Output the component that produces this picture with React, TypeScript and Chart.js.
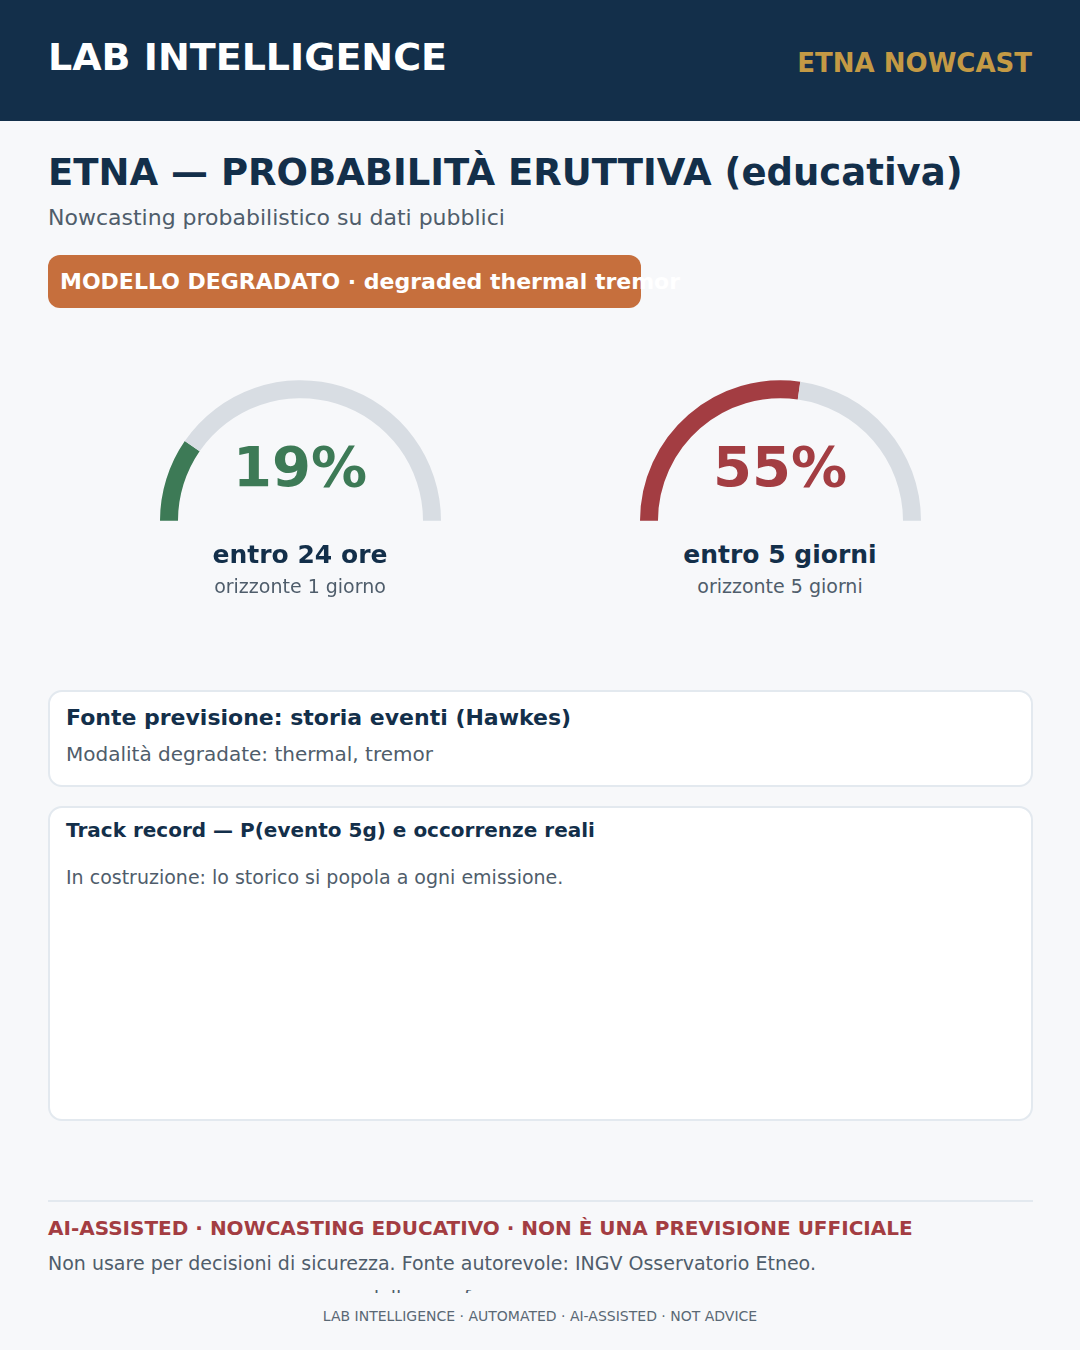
import React, { useEffect, useRef } from "react";
import { Chart, registerables } from "chart.js";

Chart.register(...registerables);

const gaugeValues = [19.2, 54.5];
const gaugeMax = 100;
const gaugeLabels = ["entro 24 ore", "entro 5 giorni"];
const gaugeSubs = ["orizzonte 1 giorno", "orizzonte 5 giorni"];
const gaugeColors = ["#3d7a56", "#a33d42"];
const gaugeLefts = [160, 640];

const FONT = "'DejaVu Sans', sans-serif";
const NAVY = "#132f4a";
const GREY = "#4f5d6b";
const PAGE = "#f7f8fa";

function Gauge({ value, color, left }: { value: number; color: string; left: number }) {
  const ref = useRef<HTMLCanvasElement>(null);
  useEffect(() => {
    const chart = new Chart(ref.current!, {
      type: "doughnut",
      data: {
        labels: ["probabilità", "resto"],
        datasets: [{ data: [value, gaugeMax - value], backgroundColor: [color, "#d8dde3"], borderWidth: 0 }],
      },
      options: {
        responsive: false,
        animation: false,
        rotation: -90,
        circumference: 180,
        cutout: "87.2%",
        layout: { padding: 0 },
        plugins: { legend: { display: false }, tooltip: { enabled: false } },
      },
    });
    return () => chart.destroy();
  }, [value, color]);
  return <canvas ref={ref} width={281} height={141} style={{ position: "absolute", left, top: 380, width: 281, height: 141 }} />;
}

function T({ x, y, size, color, bold, children, center, right }: any) {
  const style: React.CSSProperties = {
    position: "absolute",
    top: y,
    fontSize: size,
    color,
    fontWeight: bold ? 700 : 400,
    lineHeight: "1",
    whiteSpace: "nowrap",
    fontFamily: FONT,
  };
  if (center) {
    style.left = x;
    style.transform = "translateX(-50%)";
  } else if (right) {
    style.right = 1080 - x;
  } else {
    style.left = x;
  }
  return <div style={style}>{children}</div>;
}

const card: React.CSSProperties = {
  position: "absolute",
  left: 48,
  width: 985,
  boxSizing: "border-box",
  background: "#ffffff",
  border: "2px solid #e3e9ef",
  borderRadius: 14,
};

export default function App() {
  useEffect(() => {
    document.body.style.margin = "0";
    document.body.style.background = PAGE;
  }, []);
  return (
    <div style={{ position: "relative", width: 1080, height: 1350, background: PAGE, overflow: "hidden", fontFamily: FONT }}>
      <div style={{ position: "absolute", left: 0, top: 0, width: 1080, height: 121, background: NAVY }} />
      <T x={48} y={38} size={38} color="#ffffff" bold>LAB INTELLIGENCE</T>
      <T x={1032} y={50} size={26} color="#c49a45" bold right>ETNA NOWCAST</T>

      <T x={48} y={154} size={37} color={NAVY} bold>ETNA — PROBABILITÀ ERUTTIVA (educativa)</T>
      <T x={48} y={207} size={22} color={GREY}>Nowcasting probabilistico su dati pubblici</T>

      <div style={{ position: "absolute", left: 48, top: 255, width: 593, height: 53, background: "#c66f3d", borderRadius: 12 }} />
      <T x={60} y={271} size={22} color="#ffffff" bold>MODELLO DEGRADATO · degraded thermal tremor</T>

      {gaugeValues.map((v, i) => (
        <React.Fragment key={i}>
          <Gauge value={v} color={gaugeColors[i]} left={gaugeLefts[i]} />
          <T x={gaugeLefts[i] + 140} y={439} size={56} color={gaugeColors[i]} bold center>{Math.round(v)}%</T>
          <T x={gaugeLefts[i] + 140} y={542} size={25} color={NAVY} bold center>{gaugeLabels[i]}</T>
          <T x={gaugeLefts[i] + 140} y={577} size={19} color={GREY} center>{gaugeSubs[i]}</T>
        </React.Fragment>
      ))}

      <div style={{ ...card, top: 690, height: 97 }} />
      <T x={66} y={707} size={22} color={NAVY} bold>Fonte previsione: storia eventi (Hawkes)</T>
      <T x={66} y={744} size={20} color={GREY}>Modalità degradate: thermal, tremor</T>

      <div style={{ ...card, top: 806, height: 315 }} />
      <T x={66} y={820} size={20} color={NAVY} bold>Track record — P(evento 5g) e occorrenze reali</T>
      <T x={66} y={868} size={19} color={GREY}>In costruzione: lo storico si popola a ogni emissione.</T>

      <div style={{ position: "absolute", left: 48, top: 1200, width: 985, height: 2, background: "#e3e9ef" }} />
      <T x={48} y={1218} size={20} color="#a33d42" bold>AI-ASSISTED · NOWCASTING EDUCATIVO · NON È UNA PREVISIONE UFFICIALE</T>
      <T x={48} y={1254} size={19} color={GREY}>Non usare per decisioni di sicurezza. Fonte autorevole: INGV Osservatorio Etneo.</T>

      {/* Only the ascender tips of a clipped line survive in the reference */}
      <div style={{ position: "absolute", left: 0, top: 1290, width: 1080, height: 3, overflow: "hidden" }}>
        <T x={367} y={-2} size={19} color={GREY}>dell</T>
        <T x={464} y={-2} size={19} color={GREY}>f</T>
      </div>

      <T x={540} y={1309} size={14} color="#5a6875" center>LAB INTELLIGENCE · AUTOMATED · AI-ASSISTED · NOT ADVICE</T>
    </div>
  );
}
